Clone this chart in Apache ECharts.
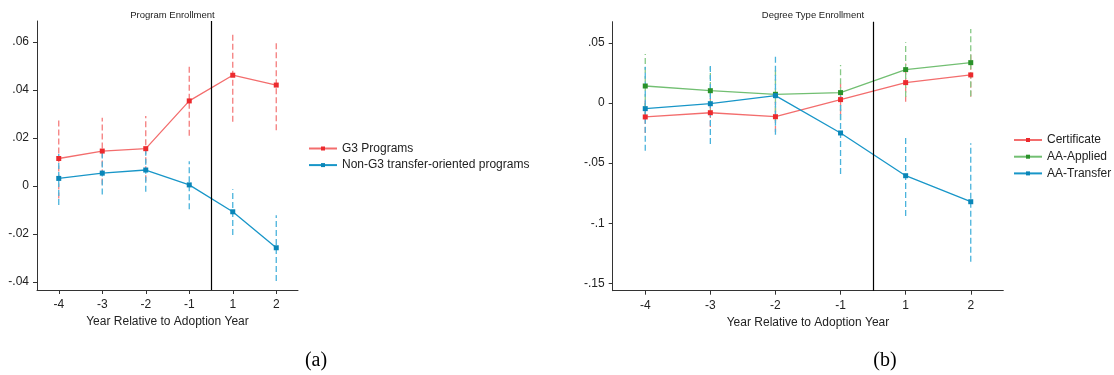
<!DOCTYPE html>
<html>
<head>
<meta charset="utf-8">
<script src="https://cdn.jsdelivr.net/npm/echarts@6/dist/echarts.min.js"></script>
<style>
  html, body { margin: 0; padding: 0; background: #fff; }
  #chart { width: 1114px; height: 375px; }
</style>
</head>
<body>
<div id="chart"></div>
<script>
// Event-study estimates by year relative to adoption (index 0..5 on the x axis)
const xLabels = ['-4', '-3', '-2', '-1', '1', '2'];
const xPos = [0, 1, 2, 3, 4, 5];

// Panel (a): Program Enrollment
const g3Est = [0.0115, 0.0146, 0.0156, 0.0355, 0.0462, 0.0421];
const g3Lo  = [-0.0052, 0.0007, 0.0020, 0.0210, 0.0268, 0.0233];
const g3Hi  = [0.0282, 0.0285, 0.0292, 0.0501, 0.0643, 0.0608];
const nonG3Est = [0.0032, 0.0054, 0.0067, 0.0005, -0.0107, -0.0257];
const nonG3Lo  = [-0.0079, -0.0035, -0.0024, -0.0096, -0.0204, -0.0396];
const nonG3Hi  = [0.0143, 0.0143, 0.0158, 0.0104, -0.0013, -0.0121];
const leftYTicks = [-0.04, -0.02, 0, 0.02, 0.04, 0.06];
const leftYLabels = ['-.04', '-.02', '0', '.02', '.04', '.06'];

// Panel (b): Degree Type Enrollment
const certEst = [-0.0116, -0.0081, -0.0114, 0.0028, 0.0169, 0.0233];
const certLo  = [-0.0250, -0.0200, -0.0240, -0.0100, 0.0010, 0.0052];
const certHi  = [0.0020, 0.0040, 0.0010, 0.0160, 0.0328, 0.0414];
const appliedEst = [0.0141, 0.0102, 0.0072, 0.0086, 0.0277, 0.0335];
const appliedLo  = [-0.0125, -0.0100, -0.0150, -0.0144, 0.0050, 0.0055];
const appliedHi  = [0.0407, 0.0300, 0.0290, 0.0316, 0.0504, 0.0615];
const transferEst = [-0.0047, -0.0006, 0.0061, -0.0249, -0.0604, -0.0820];
const transferLo  = [-0.0396, -0.0340, -0.0263, -0.0590, -0.0939, -0.1318];
const transferHi  = [0.0300, 0.0330, 0.0385, 0.0095, -0.0280, -0.0335];
const rightYTicks = [-0.15, -0.1, -0.05, 0, 0.05];
const rightYLabels = ['-.15', '-.1', '-.05', '0', '.05'];

const adoptionCut = 3.5;   // boundary between year -1 and year 1

const FONT = '"Liberation Sans", Arial, Helvetica, sans-serif';
const AXIS_COLOR = '#333';

const C = {
  red:   { line: '#f36d6d', mark: '#ec2a2e', ci: '#f47d7d' },
  green: { line: '#72bf72', mark: '#2a922a', ci: '#86c986' },
  blue:  { line: '#1896c8', mark: '#0a86b8', ci: '#4ab3dc' }
};

function pts(est) { return xPos.map((x, i) => [x, est[i]]); }
function bars(lo, hi) { return xPos.map((x, i) => [x, lo[i], hi[i]]); }

function xAxisDef(gridIndex) {
  return {
    type: 'value', gridIndex, min: -0.5, max: 5.5,
    name: 'Year Relative to Adoption Year', nameLocation: 'middle', nameGap: 25,
    nameTextStyle: { fontFamily: FONT, fontSize: 12, color: '#222' },
    splitLine: { show: false },
    axisLine: { show: true, onZero: false, lineStyle: { color: AXIS_COLOR, width: 1 } },
    axisTick: { show: true, length: 4, customValues: xPos, lineStyle: { color: AXIS_COLOR } },
    axisLabel: {
      customValues: xPos, margin: 9,
      fontFamily: FONT, fontSize: 12, color: '#222',
      formatter: v => xLabels[Math.round(v)]
    }
  };
}

function yAxisDef(gridIndex, min, max, ticks, labels) {
  return {
    type: 'value', gridIndex, min, max,
    splitLine: { show: false },
    axisLine: { show: true, onZero: false, lineStyle: { color: AXIS_COLOR, width: 1 } },
    axisTick: { show: true, length: 4, customValues: ticks, lineStyle: { color: AXIS_COLOR } },
    axisLabel: {
      customValues: ticks, margin: 8,
      fontFamily: FONT, fontSize: 12, color: '#222',
      formatter: v => {
        const i = ticks.findIndex(t => Math.abs(t - v) < 1e-9);
        return i >= 0 ? labels[i] : '';
      }
    }
  };
}

function lineSeries(name, est, col, idx, extra) {
  return Object.assign({
    name, type: 'line', xAxisIndex: idx, yAxisIndex: idx,
    data: pts(est), symbol: 'rect', symbolSize: 5, z: 3,
    lineStyle: { color: col.line, width: 1.3 },
    itemStyle: { color: col.mark },
    emphasis: { disabled: true }, animation: false
  }, extra || {});
}

function ciSeries(lo, hi, col, idx) {
  return {
    type: 'custom', xAxisIndex: idx, yAxisIndex: idx, z: 2,
    data: bars(lo, hi), silent: true, animation: false,
    renderItem: (params, api) => {
      const a = api.coord([api.value(0), api.value(1)]);
      const b = api.coord([api.value(0), api.value(2)]);
      return {
        type: 'line',
        shape: { x1: a[0], y1: a[1], x2: b[0], y2: b[1] },
        style: { stroke: col.ci, lineWidth: 1.3, lineDash: [6, 3] }
      };
    }
  };
}

function cutLine() {
  return {
    silent: true, symbol: 'none', label: { show: false },
    lineStyle: { color: '#000', width: 1.2, type: 'solid' },
    data: [{ xAxis: adoptionCut }], animation: false
  };
}

const legendText = { fontFamily: FONT, fontSize: 12, color: '#222' };

const chart = echarts.init(document.getElementById('chart'), null, { renderer: 'canvas' });
chart.setOption({
  backgroundColor: '#fff',
  animation: false,
  title: [
    { text: 'Program Enrollment', left: 167.5, top: 5, textAlign: 'center',
      textStyle: { fontFamily: FONT, fontSize: 9.5, fontWeight: 'normal', color: '#222' } },
    { text: 'Degree Type Enrollment', left: 808, top: 5, textAlign: 'center',
      textStyle: { fontFamily: FONT, fontSize: 9.5, fontWeight: 'normal', color: '#222' } },
    { text: '(a)', left: 311, top: 346, textAlign: 'center',
      textStyle: { fontFamily: '"Liberation Serif", "Times New Roman", serif', fontSize: 20, fontWeight: 'normal', color: '#000' } },
    { text: '(b)', left: 880, top: 346, textAlign: 'center',
      textStyle: { fontFamily: '"Liberation Serif", "Times New Roman", serif', fontSize: 20, fontWeight: 'normal', color: '#000' } }
  ],
  legend: [
    { data: ['G3 Programs', 'Non-G3 transfer-oriented programs'],
      orient: 'vertical', left: 308, top: 142.5, padding: 0,
      itemWidth: 28, itemHeight: 5, itemGap: 4.6,
      itemStyle: { borderWidth: 0 },
      textStyle: legendText, selectedMode: false },
    { data: ['Certificate', 'AA-Applied', 'AA-Transfer'],
      orient: 'vertical', left: 1013, top: 134, padding: 0,
      itemWidth: 28, itemHeight: 5, itemGap: 4.7,
      itemStyle: { borderWidth: 0 },
      textStyle: legendText, selectedMode: false }
  ],
  grid: [
    { left: 37, top: 21, width: 261, height: 269, containLabel: false },
    { left: 612.7, top: 21.7, width: 390.6, height: 269, containLabel: false }
  ],
  xAxis: [xAxisDef(0), xAxisDef(1)],
  yAxis: [
    yAxisDef(0, -0.0433, 0.0688, leftYTicks, leftYLabels),
    yAxisDef(1, -0.1559, 0.0675, rightYTicks, rightYLabels)
  ],
  series: [
    ciSeries(g3Lo, g3Hi, C.red, 0),
    ciSeries(nonG3Lo, nonG3Hi, C.blue, 0),
    lineSeries('G3 Programs', g3Est, C.red, 0, { markLine: cutLine() }),
    lineSeries('Non-G3 transfer-oriented programs', nonG3Est, C.blue, 0),

    ciSeries(certLo, certHi, C.red, 1),
    ciSeries(appliedLo, appliedHi, C.green, 1),
    ciSeries(transferLo, transferHi, C.blue, 1),
    lineSeries('Certificate', certEst, C.red, 1, { markLine: cutLine() }),
    lineSeries('AA-Applied', appliedEst, C.green, 1),
    lineSeries('AA-Transfer', transferEst, C.blue, 1)
  ]
});
</script>
</body>
</html>
